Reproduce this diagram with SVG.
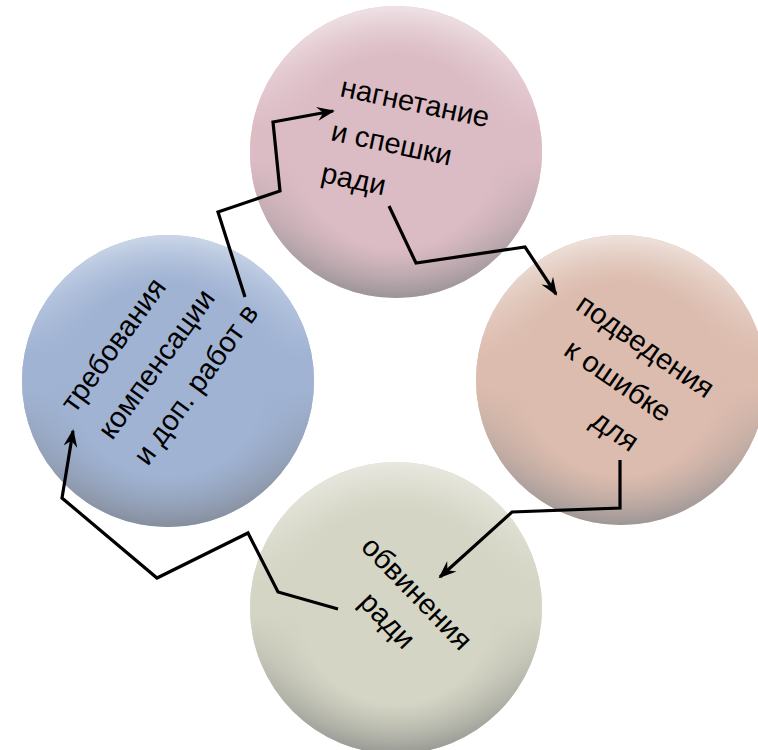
<svg xmlns="http://www.w3.org/2000/svg" width="758" height="750" viewBox="0 0 758 750">
<style>
.lbl{font-family:"Liberation Sans",Arial,sans-serif;font-size:29px;fill:#000}
.mid{text-anchor:middle}
.conn{fill:none;stroke:#000;stroke-width:3.2;stroke-linejoin:miter}
</style>
<defs>
<radialGradient id="ring" cx="0.5" cy="0.5" r="0.5">
<stop offset="0" stop-color="#000"/>
<stop offset="0.66" stop-color="#000"/>
<stop offset="1" stop-color="#fff"/>
</radialGradient>
<mask id="edge" maskContentUnits="objectBoundingBox">
<rect x="0" y="0" width="1" height="1" fill="url(#ring)"/>
</mask>
<linearGradient id="pinkE" x1="0" y1="0" x2="0" y2="1">
<stop offset="0" stop-color="#eee2e5"/><stop offset="0.42" stop-color="#dcbcc4"/><stop offset="0.52" stop-color="#dcbcc4"/><stop offset="1" stop-color="#9a9497"/>
</linearGradient>
<linearGradient id="peachE" x1="0" y1="0" x2="0" y2="1">
<stop offset="0" stop-color="#eee2dc"/><stop offset="0.42" stop-color="#dcbcae"/><stop offset="0.52" stop-color="#dcbcae"/><stop offset="1" stop-color="#9c9696"/>
</linearGradient>
<linearGradient id="greenE" x1="0" y1="0" x2="0" y2="1">
<stop offset="0" stop-color="#e8e8e0"/><stop offset="0.42" stop-color="#d5d5c5"/><stop offset="0.52" stop-color="#d5d5c5"/><stop offset="1" stop-color="#979993"/>
</linearGradient>
<linearGradient id="blueE" x1="0" y1="0" x2="0" y2="1">
<stop offset="0" stop-color="#cbd6e8"/><stop offset="0.42" stop-color="#a0b3d3"/><stop offset="0.52" stop-color="#a0b3d3"/><stop offset="1" stop-color="#868e9c"/>
</linearGradient>
<marker id="arr" viewBox="0 0 18 14" refX="16" refY="7" markerWidth="18" markerHeight="14" orient="auto" markerUnits="userSpaceOnUse">
<path d="M0,0 L18,7 L0,14 L6,7 z" fill="#000"/>
</marker>
</defs>

<g id="node-pink">
<circle cx="396" cy="152" r="146" fill="#dcbcc4"/>
<circle cx="396" cy="152" r="146" fill="url(#pinkE)" mask="url(#edge)"/>
<g transform="translate(339,96) rotate(12)">
<text class="lbl" x="0" y="0">нагнетание</text>
<text class="lbl" x="0" y="45">и спешки</text>
<text class="lbl" x="-1" y="88">ради</text>
</g>
</g>

<g id="node-peach">
<circle cx="621" cy="380" r="145" fill="#dcbcae"/>
<circle cx="621" cy="380" r="145" fill="url(#peachE)" mask="url(#edge)"/>
<g transform="translate(640,354) rotate(34.5)">
<text class="lbl mid" x="0" y="0">подведения</text>
<text class="lbl mid" x="-3" y="44">к ошибке</text>
<text class="lbl mid" x="23" y="87">для</text>
</g>
</g>

<g id="node-green">
<circle cx="396" cy="608" r="146" fill="#d5d5c5"/>
<circle cx="396" cy="608" r="146" fill="url(#greenE)" mask="url(#edge)"/>
<g transform="translate(410,600) rotate(46)">
<text class="lbl mid" x="0" y="0">обвинения</text>
<text class="lbl mid" x="-1" y="40">ради</text>
</g>
</g>

<g id="node-blue">
<circle cx="168" cy="381" r="146" fill="#a0b3d3"/>
<circle cx="168" cy="381" r="146" fill="url(#blueE)" mask="url(#edge)"/>
<g transform="translate(75,414) rotate(-54)">
<text class="lbl" x="0" y="0">требования</text>
<text class="lbl" x="0" y="46">компенсации</text>
<text class="lbl" x="0" y="90">и доп. работ в</text>
</g>
</g>

<g id="connectors">
<path class="conn" d="M245,297 L218,212 L280,191 L273,122 L333,111" marker-end="url(#arr)"/>
<path class="conn" d="M389,206 L416,263 L525,247 L556,294" marker-end="url(#arr)"/>
<path class="conn" d="M620,460 L620,508 L512,512 L440,577" marker-end="url(#arr)"/>
<path class="conn" d="M338,609 L278,592 L248,533 L157,578 L62,498 L73,431" marker-end="url(#arr)"/>
</g>
</svg>
